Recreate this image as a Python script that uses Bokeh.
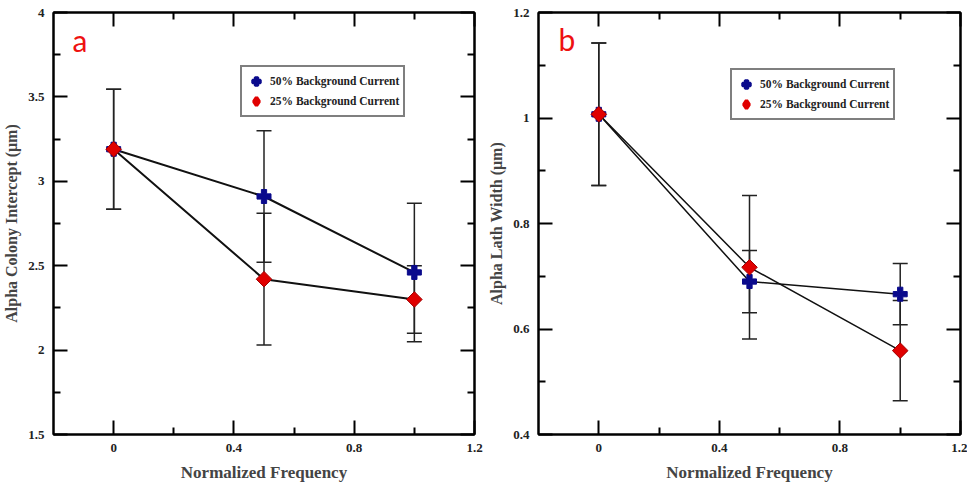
import numpy as np
from bokeh.plotting import figure
from bokeh.models import (LinearAxis, FixedTicker, Whisker, TeeHead, ColumnDataSource,
                          Label, Range1d, Legend, LegendItem)
from bokeh.layouts import row
from bokeh.embed import file_html
from bokeh.resources import INLINE

# ---------------- data ----------------
freq = [0.0, 0.5, 1.0]

# panel a: Alpha Colony Intercept (um)
a_bg50 = [3.19, 2.91, 2.46]
a_bg50_err = [0.355, 0.39, 0.41]
a_bg25 = [3.19, 2.42, 2.30]
a_bg25_err = [0.355, 0.39, 0.20]

# panel b: Alpha Lath Width (um)
b_bg50 = [1.007, 0.690, 0.666]
b_bg50_err = [0.135, 0.059, 0.058]
b_bg25 = [1.007, 0.717, 0.559]
b_bg25_err = [0.135, 0.136, 0.095]

x_ticks = [0.0, 0.4, 0.8, 1.2]
x_minor = [0.2, 0.6, 1.0]
a_yticks = [1.5, 2.0, 2.5, 3.0, 3.5, 4.0]
a_yminor = [1.75, 2.25, 2.75, 3.25, 3.75]
b_yticks = [0.4, 0.6, 0.8, 1.0, 1.2]
b_yminor = [0.5, 0.7, 0.9, 1.1]

series_labels = ["50% Background Current", "25% Background Current"]

SERIF = "Liberation Serif"
BLUE = "#0a0a8c"
RED = "#e00000"


def base_axis(ax):
    ax.axis_line_width = 2
    ax.axis_line_color = "black"
    ax.major_tick_in = 14
    ax.major_tick_out = 0
    ax.minor_tick_out = 0
    ax.major_tick_line_width = 2
    ax.minor_tick_line_width = 2
    ax.major_tick_line_color = "black"
    ax.minor_tick_line_color = "black"


def style_axis(ax, ticks, minor):
    base_axis(ax)
    ax.ticker = FixedTicker(ticks=ticks, minor_ticks=minor)
    ax.minor_tick_in = 7
    ax.major_label_text_font = SERIF
    ax.major_label_text_font_style = "bold"
    ax.major_label_text_font_size = "13px"
    ax.major_label_text_color = "#222222"
    ax.major_label_standoff = 9
    ax.major_label_overrides = {t: f"{t:g}" for t in ticks}


def mirror_axes(p, side, ticks, minor):
    # two label-free axes: long ticks at the labelled positions, short ones between
    for pos, length in ((ticks, 14), (minor, 7)):
        ax = LinearAxis(ticker=FixedTicker(ticks=[], minor_ticks=pos))
        base_axis(ax)
        ax.minor_tick_in = length
        ax.major_label_standoff = 0
        ax.axis_line_alpha = 1 if length == 14 else 0
        p.add_layout(ax, side)


def make_panel(width, border_left, border_right, yrange, yticks, yminor, ylabel,
               s50, e50, s25, e25, letter, letter_pos, legend_pos, line_w):
    p = figure(width=width, height=489, output_backend="svg", toolbar_location=None,
               x_range=Range1d(-0.2, 1.2), y_range=Range1d(*yrange),
               min_border_left=border_left, min_border_right=border_right,
               min_border_top=12, min_border_bottom=55,
               background_fill_color="white", border_fill_color="white")
    p.grid.visible = False
    p.outline_line_color = "black"
    p.outline_line_width = 2

    style_axis(p.xaxis[0], x_ticks, x_minor)
    style_axis(p.yaxis[0], yticks, yminor)
    p.xaxis.axis_label = "Normalized Frequency"
    p.xaxis.axis_label_text_font = SERIF
    p.xaxis.axis_label_text_font_style = "bold"
    p.xaxis.axis_label_text_font_size = "17px"
    p.xaxis.axis_label_standoff = 8
    p.yaxis.axis_label = ylabel
    p.yaxis.axis_label_text_font = SERIF
    p.yaxis.axis_label_text_font_style = "bold"
    p.yaxis.axis_label_text_font_size = "16px"
    p.yaxis.axis_label_standoff = 5

    mirror_axes(p, "above", x_ticks, x_minor)
    mirror_axes(p, "right", yticks, yminor)

    for vals, errs in ((s50, e50), (s25, e25)):
        src = ColumnDataSource(dict(
            x=freq,
            upper=[v + e for v, e in zip(vals, errs)],
            lower=[v - e for v, e in zip(vals, errs)]))
        w = Whisker(base="x", upper="upper", lower="lower", source=src,
                    line_color="#222222", line_width=1.5,
                    upper_head=TeeHead(size=15, line_color="#222222", line_width=1.5),
                    lower_head=TeeHead(size=15, line_color="#222222", line_width=1.5))
        p.add_layout(w)

    p.line(freq, s50, line_color="#111111", line_width=line_w)
    p.line(freq, s25, line_color="#111111", line_width=line_w)

    p.scatter(freq, s50, marker="plus", size=14, fill_color=BLUE, line_color=BLUE)
    p.scatter(freq, s25, marker="square", angle=np.pi / 4, size=11,
              fill_color=RED, line_color="#a00000", line_width=1)

    # legend-only (hidden) renderers: thicker outlines so legend glyphs read larger
    k50 = p.scatter(freq, s50, marker="plus", size=5, fill_color=BLUE,
                    line_color=BLUE, line_width=2.5, visible=False)
    k25 = p.scatter(freq, s25, marker="diamond", size=5, fill_color=RED,
                    line_color=RED, line_width=3.5, visible=False)

    lg = Legend(items=[LegendItem(label=series_labels[0], renderers=[k50]),
                       LegendItem(label=series_labels[1], renderers=[k25])],
                location=legend_pos, click_policy="none")
    lg.border_line_color = "black"
    lg.border_line_width = 2
    lg.label_text_font = SERIF
    lg.label_text_font_style = "bold"
    lg.label_text_font_size = "11.5px"
    lg.label_text_color = "#222222"
    lg.padding = 4
    lg.spacing = 0
    lg.margin = 0
    lg.label_height = 20
    lg.glyph_height = 20
    lg.glyph_width = 20
    lg.label_standoff = 4
    lg.background_fill_alpha = 1
    lg.inactive_fill_alpha = 0
    p.add_layout(lg, "center")

    p.add_layout(Label(x=letter_pos[0], y=letter_pos[1], text=letter,
                       text_color="#ee1111", text_font="Lato",
                       text_font_size="30px", text_align="center",
                       text_baseline="alphabetic"))
    return p


pa = make_panel(483, 53, 9, (1.5, 4.0), a_yticks, a_yminor,
                "Alpha Colony Intercept (\u03bcm)",
                a_bg50, a_bg50_err, a_bg25, a_bg25_err,
                "a", (-0.112, 3.84), (187, 317), 2)
pb = make_panel(484, 55, 7, (0.4, 1.2), b_yticks, b_yminor,
                "Alpha Lath Width (\u03bcm)",
                b_bg50, b_bg50_err, b_bg25, b_bg25_err,
                "b", (-0.106, 1.150), (192, 314), 1.5)

layout = row(pa, pb, spacing=0)
open("out.html", "w").write(file_html(layout, INLINE))
